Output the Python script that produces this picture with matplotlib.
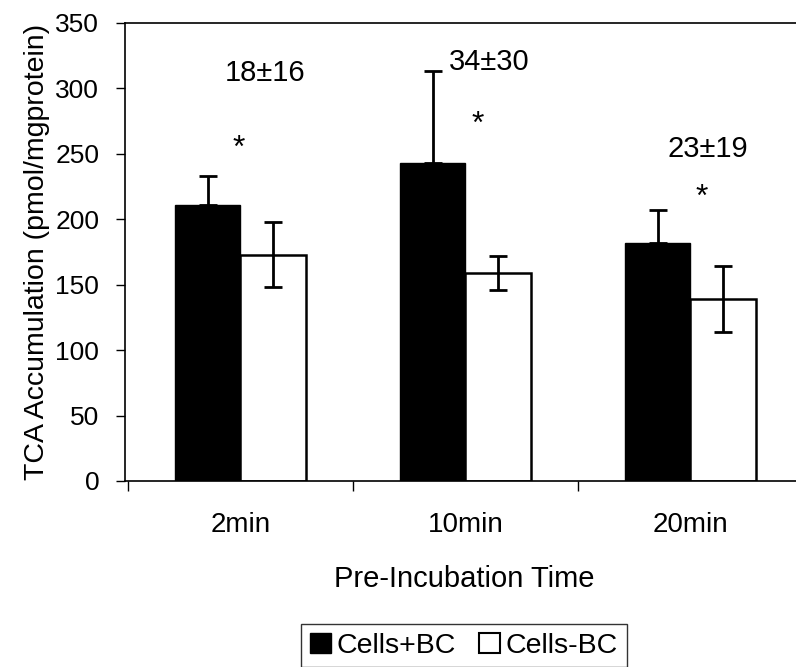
import matplotlib
matplotlib.use('Agg')
import matplotlib.pyplot as plt
from matplotlib.patches import Patch
import numpy as np

plt.rcParams['font.family'] = ['Liberation Sans', 'DejaVu Sans']

# pre-incubation times and TCA accumulation (pmol/mg protein)
times = ['2min', '10min', '20min']
cells_bc = [211, 243, 182]
cells_bc_err = [22, 70, 25]
cells_no_bc = [173, 159, 139]
cells_no_bc_err = [25, 13, 25]
# % difference labels and where they sit
diff_labels = ['18\u00b116', '34\u00b130', '23\u00b119']
diff_pos = [(0.609, 312), (1.604, 320), (2.578, 254)]
star_pos = [(0.492, 254), (1.555, 272), (2.55, 216)]

W, H = 796, 667
fig = plt.figure(figsize=(W / 100, H / 100), dpi=100)
ax = fig.add_axes([125 / W, (H - 481) / H, (803 - 125) / W, 458 / H])

x = np.arange(len(times)) + 0.5
bw = 0.293
ax.bar(x - bw / 2, cells_bc, bw, color='black', edgecolor='black', linewidth=1.0, zorder=2)
ax.bar(x + bw / 2, cells_no_bc, bw, color='white', edgecolor='black', linewidth=1.8, zorder=2)

# upper-only error bars on the +BC bars, both directions on -BC
ax.errorbar(x - bw / 2, cells_bc, yerr=[np.zeros(3), cells_bc_err], fmt='none',
            ecolor='black', elinewidth=2, capsize=6.5, capthick=2, zorder=3)
ax.errorbar(x + bw / 2, cells_no_bc, yerr=cells_no_bc_err, fmt='none',
            ecolor='black', elinewidth=2, capsize=6.5, capthick=2, zorder=3)

for txt, (tx, ty) in zip(diff_labels, diff_pos):
    ax.text(tx, ty, txt, ha='center', va='center', fontsize=21)
for sx, sy in star_pos:
    ax.text(sx, sy, '*', ha='center', va='center', fontsize=23)

ax.set_xlim(-0.0133, 3)
ax.set_ylim(0, 350)
ax.set_yticks(np.arange(0, 351, 50))
ax.tick_params(axis='y', direction='out', length=6.5, width=1, pad=12, labelsize=19)

# category boundaries get the tick marks, names sit in between
ax.set_xticks([0, 1, 2, 3])
ax.set_xticklabels([])
ax.set_xticks(x, minor=True)
ax.set_xticklabels(times, minor=True)
ax.tick_params(axis='x', which='major', direction='out', length=7, width=1)
ax.tick_params(axis='x', which='minor', length=0, pad=22, labelsize=20)

for s in ax.spines.values():
    s.set_linewidth(1.2)

ax.set_xlabel('Pre-Incubation Time', fontsize=21, labelpad=20)
ax.set_ylabel('TCA Accumulation (pmol/mgprotein)', fontsize=20.5, labelpad=4)

handles = [Patch(facecolor='black', edgecolor='black'),
           Patch(facecolor='white', edgecolor='black', linewidth=1.5)]
leg = fig.legend(handles, ['Cells+BC', 'Cells-BC'], ncol=2, loc='upper left',
                 bbox_to_anchor=(301 / W, 1 - 624 / H), fontsize=20.5,
                 frameon=True, fancybox=False, edgecolor='black',
                 handlelength=0.75, handleheight=0.75, handletextpad=0.2,
                 columnspacing=0.8, borderpad=0.3, borderaxespad=0)
leg.get_frame().set_linewidth(1.0)

fig.savefig('out.png', dpi=100)
